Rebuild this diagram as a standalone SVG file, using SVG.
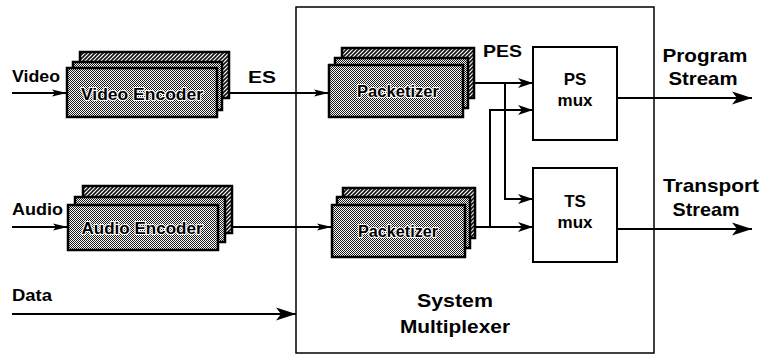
<svg xmlns="http://www.w3.org/2000/svg" width="766" height="363" viewBox="0 0 766 363">
<defs>
<pattern id="dots" width="2" height="2" patternUnits="userSpaceOnUse">
<rect width="2" height="2" fill="#fff"/>
<rect width="1" height="1" fill="#1a1a1a"/>
<rect x="1" y="1" width="1" height="1" fill="#1a1a1a"/>
</pattern>
<pattern id="hatch" width="4" height="4" patternUnits="userSpaceOnUse">
<rect width="4" height="4" fill="#fff"/>
<path d="M-1,5 L5,-1 M-1,1 L1,-1 M3,5 L5,3" stroke="#111" stroke-width="1.6"/>
</pattern>
<marker id="big" markerWidth="22" markerHeight="14" refX="20" refY="7" orient="auto" markerUnits="userSpaceOnUse">
<path d="M20,7 L0,0.5 L5,7 L0,13.5 Z" fill="#000"/>
</marker>
<marker id="mid" markerWidth="16" markerHeight="12" refX="15" refY="6" orient="auto" markerUnits="userSpaceOnUse">
<path d="M15,6 L0,1 L4,6 L0,11 Z" fill="#000"/>
</marker>
<marker id="small" markerWidth="16" markerHeight="10" refX="15" refY="5" orient="auto" markerUnits="userSpaceOnUse">
<path d="M15,5 L0,1.5 L3,5 L0,8.5 Z" fill="#000"/>
</marker>
</defs>
<style>
text{font-family:"Liberation Sans",Arial,Helvetica,sans-serif;font-weight:bold;fill:#000}
.lbl{font-size:17px}
.big{font-size:19px;text-anchor:middle}
.in{font-size:16px;text-anchor:middle;stroke:#fff;stroke-width:2px;paint-order:stroke;stroke-linejoin:round}
.mux{font-size:17px;text-anchor:middle}
.b{stroke:#000;stroke-width:2.5}
.back{fill:url(#hatch)}
.midb{fill:url(#dots)}
.front{fill:url(#dots)}
.box{fill:#fff;stroke:#000;stroke-width:2}
.ln{fill:none;stroke:#000;stroke-width:2}
</style>

<g id="system-multiplexer">
<rect x="296" y="7" width="358" height="346" fill="none" stroke="#000" stroke-width="1.5"/>
<text class="big" x="455" y="307" textLength="76" lengthAdjust="spacingAndGlyphs">System</text>
<text class="big" x="455" y="333" textLength="110" lengthAdjust="spacingAndGlyphs">Multiplexer</text>
</g>

<g id="video-encoder">
<rect class="b back" x="80" y="52" width="149" height="46"/>
<rect class="b midb" x="73" y="62" width="149" height="48"/>
<rect class="b front" x="67" y="68" width="150" height="49"/>
<text class="in" x="142" y="100" textLength="122" lengthAdjust="spacingAndGlyphs">Video Encoder</text>
</g>

<g id="audio-encoder">
<rect class="b back" x="83" y="186" width="149" height="47"/>
<rect class="b midb" x="75" y="197" width="150" height="45"/>
<rect class="b front" x="68" y="205" width="150" height="45"/>
<text class="in" x="142" y="234" textLength="121" lengthAdjust="spacingAndGlyphs">Audio Encoder</text>
</g>

<g id="packetizer-video">
<rect class="b back" x="342" y="48" width="132" height="50"/>
<rect class="b midb" x="335" y="58" width="133" height="50"/>
<rect class="b front" x="329" y="65" width="134" height="52"/>
<text class="in" x="398" y="97" textLength="82" lengthAdjust="spacingAndGlyphs">Packetizer</text>
</g>

<g id="packetizer-audio">
<rect class="b back" x="343" y="188" width="132" height="50"/>
<rect class="b midb" x="337" y="197" width="133" height="51"/>
<rect class="b front" x="332" y="205" width="133" height="52"/>
<text class="in" x="398" y="237" textLength="80" lengthAdjust="spacingAndGlyphs">Packetizer</text>
</g>

<g id="ps-mux">
<rect class="box" x="533" y="47" width="84" height="93"/>
<text class="mux" x="575" y="85">PS</text>
<text class="mux" x="575" y="106">mux</text>
</g>

<g id="ts-mux">
<rect class="box" x="533" y="168" width="84" height="94"/>
<text class="mux" x="575" y="207">TS</text>
<text class="mux" x="575" y="228">mux</text>
</g>

<g id="labels">
<text class="lbl" x="12" y="82" textLength="48" lengthAdjust="spacingAndGlyphs">Video</text>
<text class="lbl" x="12" y="215" textLength="51" lengthAdjust="spacingAndGlyphs">Audio</text>
<text class="lbl" x="12" y="301" textLength="40" lengthAdjust="spacingAndGlyphs">Data</text>
<text class="lbl" x="248" y="83" textLength="28" lengthAdjust="spacingAndGlyphs">ES</text>
<text class="lbl" x="483" y="57" textLength="39" lengthAdjust="spacingAndGlyphs">PES</text>
<text class="big" x="705" y="62" textLength="85" lengthAdjust="spacingAndGlyphs">Program</text>
<text class="big" x="703" y="85" textLength="69" lengthAdjust="spacingAndGlyphs">Stream</text>
<text class="big" x="711" y="192" textLength="96" lengthAdjust="spacingAndGlyphs">Transport</text>
<text class="big" x="706" y="216" textLength="67" lengthAdjust="spacingAndGlyphs">Stream</text>
</g>

<g id="connectors">
<path class="ln" d="M12,93 H67" marker-end="url(#small)"/>
<path class="ln" d="M12,227 H68" marker-end="url(#small)"/>
<path class="ln" d="M229,93 H329" marker-end="url(#small)"/>
<path class="ln" d="M232,227 H332" marker-end="url(#small)"/>
<path class="ln" d="M12,314 H296" marker-end="url(#big)"/>
<path class="ln" d="M474,83 H533" marker-end="url(#mid)"/>
<path class="ln" d="M505,83 V199 H533" marker-end="url(#mid)"/>
<path class="ln" d="M475,227 H533" marker-end="url(#mid)"/>
<path class="ln" d="M490,227 V110 H533" marker-end="url(#mid)"/>
<path class="ln" d="M617,98 H752" marker-end="url(#big)"/>
<path class="ln" d="M617,229 H752" marker-end="url(#big)"/>
</g>
</svg>
